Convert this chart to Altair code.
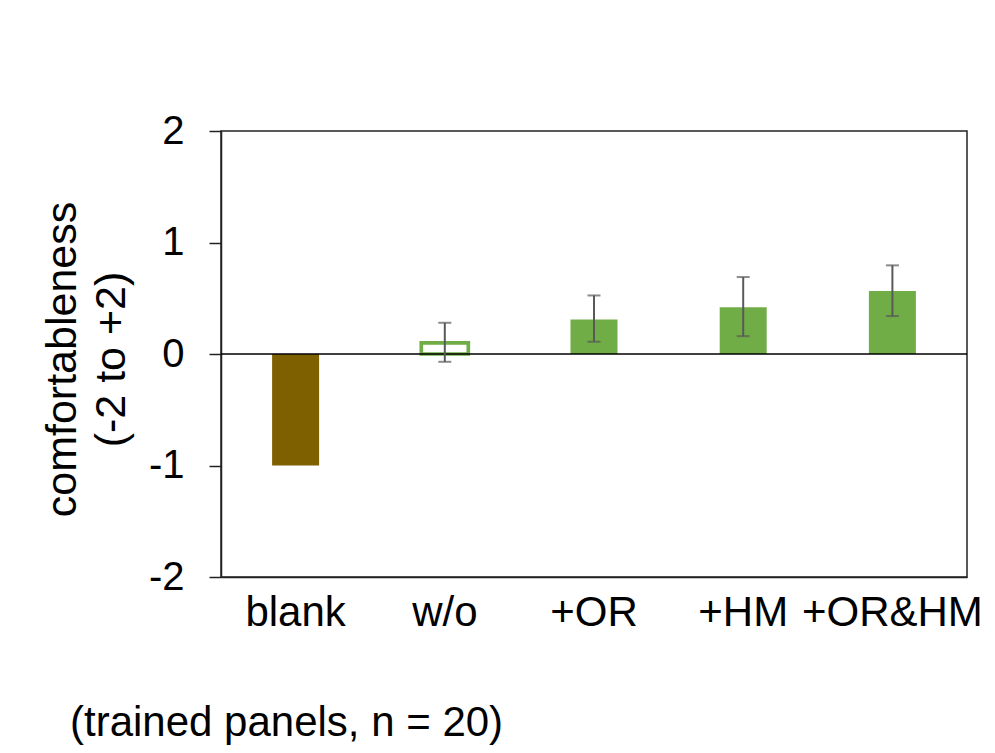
import altair as alt
import pandas as pd

categories = ["blank", "w/o", "+OR", "+HM", "+OR&HM"]
means = [-1.0, 0.10, 0.31, 0.42, 0.565]
err_low = [None, -0.07, 0.11, 0.16, 0.34]
err_high = [None, 0.28, 0.525, 0.69, 0.795]

df = pd.DataFrame({"cat": categories, "mean": means, "lo": err_low, "hi": err_high})

FONT = "Liberation Sans"
BROWN = "#7F6000"
GREEN = "#70AD47"
ERR = "#595959"

x_enc = alt.X(
    "cat:N",
    sort=categories,
    scale=alt.Scale(paddingInner=0, paddingOuter=0),
    axis=alt.Axis(
        title=None, labelAngle=0, ticks=False, tickSize=0, labelPadding=15,
        labelFontSize=42, labelFont=FONT, labelColor="black",
        domainColor="#222", domainWidth=1.5, labelLimit=400,
    ),
)
y_scale = alt.Scale(domain=[-2, 2], nice=False, zero=False)
y_axis = alt.Axis(
    title=["comfortableness", "(-2 to +2)"],
    values=[-2, -1, 0, 1, 2], grid=False, labelExpr="'' + datum.value",
    labelFontSize=40, labelFont=FONT, labelColor="black", labelPadding=25,
    tickSize=12, tickColor="#222", tickWidth=1.5,
    domainColor="#222", domainWidth=1.5,
    titleFontSize=43, titleFont=FONT, titleFontWeight="normal", titleColor="black",
    titleLineHeight=49, titleBaseline="alphabetic", titleAlign="center",
    titleAngle=270, titleX=-146, titleY=228,
)

base = alt.Chart(df)

bar_blank = base.transform_filter(alt.datum.cat == "blank").mark_bar(
    size=47, color=BROWN
).encode(x=x_enc, y=alt.Y("mean:Q", scale=y_scale, axis=y_axis), y2=alt.datum(0))

bar_green = base.transform_filter(
    alt.FieldOneOfPredicate(field="cat", oneOf=["+OR", "+HM", "+OR&HM"])
).mark_bar(size=47, color=GREEN).encode(x=x_enc, y=alt.Y("mean:Q", scale=y_scale), y2=alt.datum(0))

bar_outline = base.transform_filter(alt.datum.cat == "w/o").mark_bar(
    size=47, fill="white", stroke=GREEN, strokeWidth=3.7
).encode(x=x_enc, y=alt.Y("mean:Q", scale=y_scale), y2=alt.datum(0))

zero_rule = alt.Chart(pd.DataFrame({"z": [0]})).mark_rule(
    color="black", strokeWidth=1.5
).encode(y=alt.Y("z:Q", scale=y_scale))

err_base = base.transform_filter("isValid(datum.lo)")
err_rule = err_base.mark_rule(color=ERR, strokeWidth=2).encode(
    x=x_enc, y=alt.Y("lo:Q", scale=y_scale), y2="hi:Q"
)
cap_lo = err_base.mark_tick(color=ERR, size=13, thickness=2).encode(
    x=x_enc, y=alt.Y("lo:Q", scale=y_scale)
)
cap_hi = err_base.mark_tick(color=ERR, size=13, thickness=2).encode(
    x=x_enc, y=alt.Y("hi:Q", scale=y_scale)
)

chart = alt.layer(
    bar_blank, bar_green, bar_outline, zero_rule, err_rule, cap_lo, cap_hi
).properties(
    width=746,
    height=446,
    autosize=alt.AutoSizeParams(type="none"),
    padding={"left": 213, "top": 123, "right": 20, "bottom": 168},
    title=alt.TitleParams(
        "(trained panels, n = 20)", orient="bottom", anchor="start", frame="group",
        dx=-151, offset=70, fontSize=42, font=FONT, fontWeight="normal", color="black",
    ),
).configure(
    background="white",
    view=alt.ViewConfig(stroke="#222", strokeWidth=1.5),
)

chart.save("out.html", embed_options={"renderer": "svg", "actions": False})
